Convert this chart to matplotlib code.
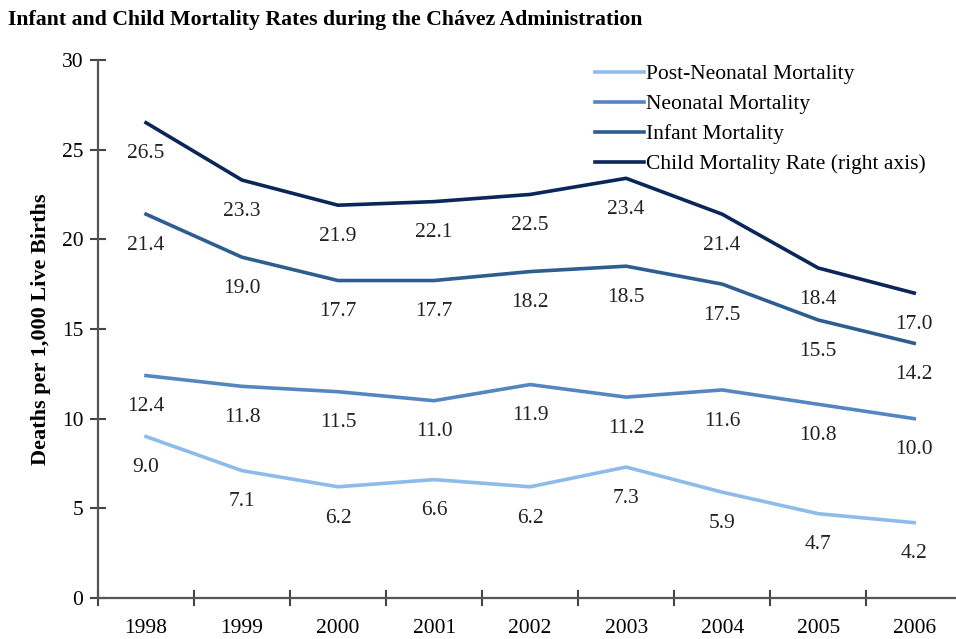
import matplotlib
matplotlib.use('Agg')
import matplotlib.pyplot as plt
import numpy as np

plt.rcParams['font.family'] = ['Liberation Serif', 'DejaVu Serif']

years = ['1998', '1999', '2000', '2001', '2002', '2003', '2004', '2005', '2006']
post_neonatal = [9.0, 7.1, 6.2, 6.6, 6.2, 7.3, 5.9, 4.7, 4.2]
neonatal = [12.4, 11.8, 11.5, 11.0, 11.9, 11.2, 11.6, 10.8, 10.0]
infant = [21.4, 19.0, 17.7, 17.7, 18.2, 18.5, 17.5, 15.5, 14.2]
child = [26.5, 23.3, 21.9, 22.1, 22.5, 23.4, 21.4, 18.4, 17.0]

series = [
    ('Post-Neonatal Mortality', post_neonatal, '#8ebbea'),
    ('Neonatal Mortality', neonatal, '#5586c2'),
    ('Infant Mortality', infant, '#2e5e90'),
    ('Child Mortality Rate (right axis)', child, '#0b2658'),
]

fs = 15.5
fig = plt.figure(figsize=(9.56, 6.39), dpi=100)
ax = fig.add_axes([0.1025, 0.0642, 0.904, 0.842])
x = np.arange(len(years))

handles = []
for name, vals, col in series:
    h, = ax.plot(x, vals, color=col, lw=2.6, label=name, solid_joinstyle='round')
    handles.append(h)
    for xi, v in zip(x, vals):
        ax.annotate('%.1f' % v, (xi, v), xytext=(0, -22.5), textcoords='offset points',
                    ha='center', va='center', fontsize=fs, color='#222222')

ax.set_xlim(-0.5, 8.5)
ax.set_ylim(0, 30)
ax.set_yticks(range(0, 31, 5))
ax.set_xticks(np.arange(-0.5, 8.6, 1))
ax.set_xticklabels([])
ax.set_xticks(x, minor=True)
ax.set_xticklabels(years, minor=True)
ax.tick_params(axis='x', which='minor', length=0, pad=15, labelsize=fs)
ax.tick_params(axis='x', which='major', direction='inout', length=11, width=1.5, color='#444444')
ax.tick_params(axis='y', direction='inout', length=11, width=1.5, color='#444444',
               labelsize=fs, pad=5)

for s in ['top', 'right']:
    ax.spines[s].set_visible(False)
for s in ['left', 'bottom']:
    ax.spines[s].set_color('#555555')
    ax.spines[s].set_linewidth(1.6)

ax.set_ylabel('Deaths per 1,000 Live Births', fontsize=16, fontweight='bold', labelpad=8)

leg = fig.legend(handles=handles, loc='upper left', bbox_to_anchor=(0.613, 0.913),
                 frameon=False, fontsize=fs, handlelength=2.3, handletextpad=0.1,
                 labelspacing=0.46, borderaxespad=0)

fig.text(0.008, 0.968, 'Infant and Child Mortality Rates during the Chávez Administration',
         fontsize=15.7, fontweight='bold', ha='left', va='center')

fig.savefig('out.png', dpi=100)
